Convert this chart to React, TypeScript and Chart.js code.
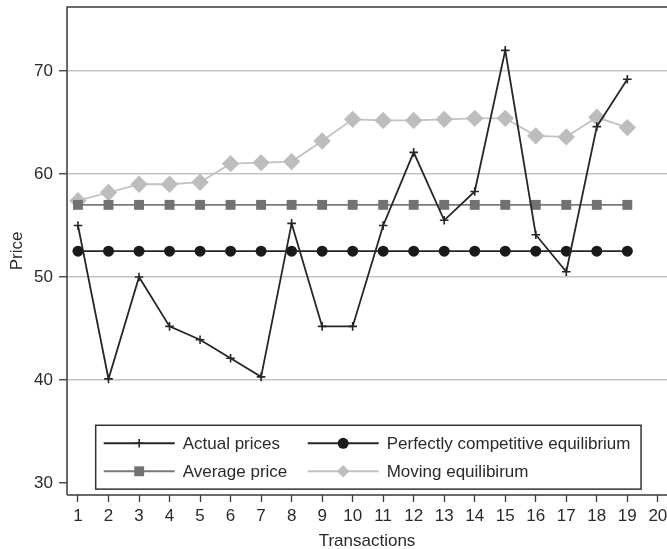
import React, { useEffect, useRef } from "react";
import { Chart, registerables } from "chart.js";

Chart.register(...registerables);

// Transaction numbers along the x axis
const transactions = [1, 2, 3, 4, 5, 6, 7, 8, 9, 10, 11, 12, 13, 14, 15, 16, 17, 18, 19];
const xTickValues = [1, 2, 3, 4, 5, 6, 7, 8, 9, 10, 11, 12, 13, 14, 15, 16, 17, 18, 19, 20];
const yTickValues = [30, 40, 50, 60, 70];

// Price series
const actualPrices = [55, 40.1, 50, 45.2, 43.9, 42.1, 40.3, 55.2, 45.2, 45.2, 55, 62.1, 55.5, 58.3, 72, 54.1, 50.5, 64.6, 69.2];
const competitiveEquilibrium = [52.5, 52.5, 52.5, 52.5, 52.5, 52.5, 52.5, 52.5, 52.5, 52.5, 52.5, 52.5, 52.5, 52.5, 52.5, 52.5, 52.5, 52.5, 52.5];
const averagePrice = [57, 57, 57, 57, 57, 57, 57, 57, 57, 57, 57, 57, 57, 57, 57, 57, 57, 57, 57];
const movingEquilibrium = [57.4, 58.2, 59.0, 59.0, 59.2, 61.0, 61.1, 61.2, 63.2, 65.3, 65.2, 65.2, 65.3, 65.4, 65.4, 63.7, 63.6, 65.5, 64.5];

const seriesLabels = ["Actual prices", "Perfectly competitive equilibrium", "Average price", "Moving equilibirum"];

const FONT = "'Liberation Sans', Arial, Helvetica, sans-serif";
const TEXT = "#2a2a2a";
const FONT_SIZE = 17;

const toPoints = (ys: number[]) => transactions.map((x, i) => ({ x, y: ys[i] }));

// Marker glyph for the key, same shapes as the line points
function drawMarker(ctx: CanvasRenderingContext2D, style: string, r: number, x: number, y: number, color: string, lw: number) {
  ctx.save();
  ctx.fillStyle = color;
  ctx.strokeStyle = color;
  ctx.lineWidth = lw;
  ctx.beginPath();
  if (style === "cross") {
    ctx.moveTo(x - r, y);
    ctx.lineTo(x + r, y);
    ctx.moveTo(x, y - r);
    ctx.lineTo(x, y + r);
    ctx.stroke();
  } else if (style === "circle") {
    ctx.arc(x, y, r, 0, Math.PI * 2);
    ctx.fill();
  } else if (style === "rect") {
    const s = r * Math.SQRT1_2;
    ctx.rect(x - s, y - s, 2 * s, 2 * s);
    ctx.fill();
  } else if (style === "rectRot") {
    const s = r * Math.SQRT1_2;
    ctx.moveTo(x - s, y);
    ctx.lineTo(x, y + s);
    ctx.lineTo(x + s, y);
    ctx.lineTo(x, y - s);
    ctx.closePath();
    ctx.fill();
  }
  ctx.restore();
}

// Plot frame: left, top and bottom edges
const framePlugin = {
  id: "frame",
  beforeDatasetsDraw(chart: any) {
    const { ctx, chartArea: a } = chart;
    ctx.save();
    ctx.strokeStyle = "#3a3a3a";
    ctx.lineWidth = 1.5;
    ctx.beginPath();
    ctx.moveTo(a.left, a.bottom);
    ctx.lineTo(a.left, a.top);
    ctx.lineTo(a.right, a.top);
    ctx.moveTo(a.left, a.bottom);
    ctx.lineTo(a.right, a.bottom);
    ctx.stroke();
    ctx.restore();
  },
};

// Boxed two-column key inside the plot area
const keyPlugin = {
  id: "boxedKey",
  afterDatasetsDraw(chart: any) {
    const { ctx } = chart;
    const xs = chart.scales.x;
    const ys = chart.scales.y;
    const left = xs.getPixelForValue(1.58);
    const right = xs.getPixelForValue(19.45);
    const top = ys.getPixelForValue(35.6);
    const bottom = ys.getPixelForValue(29.4);
    ctx.save();
    ctx.fillStyle = "#ffffff";
    ctx.fillRect(left, top, right - left, bottom - top);
    ctx.strokeStyle = "#333333";
    ctx.lineWidth = 1.5;
    ctx.strokeRect(left, top, right - left, bottom - top);

    const rowY = [top + 18, top + 46];
    const cells = [
      { ds: 0, col: 0, row: 0 },
      { ds: 1, col: 1, row: 0 },
      { ds: 2, col: 0, row: 1 },
      { ds: 3, col: 1, row: 1 },
    ];
    const colStarts = [left + 8, left + 212];
    const sampleW = 71;
    cells.forEach(({ ds, col, row }) => {
      const d = chart.data.datasets[ds];
      const x0 = colStarts[col];
      const y = rowY[row];
      ctx.strokeStyle = d.borderColor;
      ctx.lineWidth = d.borderWidth;
      ctx.beginPath();
      ctx.moveTo(x0, y);
      ctx.lineTo(x0 + sampleW, y);
      ctx.stroke();
      drawMarker(ctx, d.pointStyle, d.pointRadius, x0 + sampleW / 2, y, d.pointBackgroundColor, d.pointBorderWidth || 1.6);
      ctx.fillStyle = TEXT;
      ctx.font = `${FONT_SIZE}px ${FONT}`;
      ctx.textBaseline = "middle";
      ctx.textAlign = "left";
      ctx.fillText(d.label, x0 + sampleW + 8, y + 1);
    });
    ctx.restore();
  },
};

const zeroPadding = (scale: any) => {
  scale.paddingTop = 0;
  scale.paddingBottom = 0;
  scale.paddingLeft = 0;
  scale.paddingRight = 0;
};

export default function App() {
  const canvasRef = useRef<HTMLCanvasElement | null>(null);

  useEffect(() => {
    const canvas = canvasRef.current;
    if (!canvas) return;

    const chart = new Chart(canvas, {
      type: "line",
      data: {
        datasets: [
          {
            label: seriesLabels[0],
            data: toPoints(actualPrices),
            borderColor: "#262626",
            borderWidth: 1.8,
            pointStyle: "cross",
            pointRadius: 4.3,
            pointBorderWidth: 1.6,
            pointBorderColor: "#262626",
            pointBackgroundColor: "#262626",
            order: 1,
          },
          {
            label: seriesLabels[1],
            data: toPoints(competitiveEquilibrium),
            borderColor: "#262626",
            borderWidth: 1.8,
            pointStyle: "circle",
            pointRadius: 5.5,
            pointBorderWidth: 0,
            pointBorderColor: "#1a1a1a",
            pointBackgroundColor: "#1a1a1a",
            order: 2,
          },
          {
            label: seriesLabels[2],
            data: toPoints(averagePrice),
            borderColor: "#7a7a7a",
            borderWidth: 1.8,
            pointStyle: "rect",
            pointRadius: 7,
            pointBorderWidth: 0,
            pointBorderColor: "#727272",
            pointBackgroundColor: "#727272",
            order: 3,
          },
          {
            label: seriesLabels[3],
            data: toPoints(movingEquilibrium),
            borderColor: "#c2c2c2",
            borderWidth: 1.8,
            pointStyle: "rectRot",
            pointRadius: 8.7,
            pointBorderWidth: 0,
            pointBorderColor: "#bdbdbd",
            pointBackgroundColor: "#bdbdbd",
            order: 4,
          },
        ],
      },
      options: {
        animation: false,
        responsive: false,
        devicePixelRatio: 1,
        layout: { autoPadding: false, padding: { top: 7, left: 0, right: 0, bottom: 0 } },
        plugins: {
          legend: { display: false },
          tooltip: { enabled: false },
        },
        scales: {
          x: {
            type: "linear",
            min: 0.64,
            max: 20.3,
            afterBuildTicks: (scale: any) => {
              scale.ticks = xTickValues.map((v) => ({ value: v }));
            },
            afterFit: (scale: any) => {
              scale.height = 54;
              zeroPadding(scale);
            },
            border: { display: false },
            grid: {
              drawOnChartArea: false,
              drawTicks: true,
              tickLength: 7,
              tickColor: "#3a3a3a",
              tickWidth: 1.3,
            },
            ticks: {
              autoSkip: false,
              maxRotation: 0,
              padding: 4.5,
              color: TEXT,
              font: { family: FONT, size: FONT_SIZE },
              callback: (v: any) => String(v),
            },
            title: {
              display: true,
              text: "Transactions",
              color: TEXT,
              font: { family: FONT, size: FONT_SIZE },
              padding: { top: 0, bottom: -3 },
            },
          },
          y: {
            type: "linear",
            min: 28.83,
            max: 76.21,
            afterBuildTicks: (scale: any) => {
              scale.ticks = yTickValues.map((v) => ({ value: v }));
            },
            afterFit: (scale: any) => {
              scale.width = 67;
              zeroPadding(scale);
            },
            border: { display: false },
            grid: {
              color: (c: any) => (c.tick && c.tick.value === 30 ? "rgba(0,0,0,0)" : "#c4c4c4"),
              lineWidth: 1.5,
              drawTicks: true,
              tickLength: 8,
              tickColor: "#3a3a3a",
              tickWidth: 1.3,
            },
            ticks: {
              padding: 6,
              color: TEXT,
              font: { family: FONT, size: FONT_SIZE },
              callback: (v: any) => String(v),
            },
            title: {
              display: true,
              text: "Price",
              color: TEXT,
              font: { family: FONT, size: FONT_SIZE },
              padding: { top: 7, bottom: 0 },
            },
          },
        },
      },
      plugins: [framePlugin, keyPlugin],
    });

    return () => chart.destroy();
  }, []);

  return (
    <div style={{ position: "fixed", left: 0, top: 0, width: 667, height: 549, background: "#ffffff" }}>
      <canvas ref={canvasRef} width={667} height={549} />
    </div>
  );
}
